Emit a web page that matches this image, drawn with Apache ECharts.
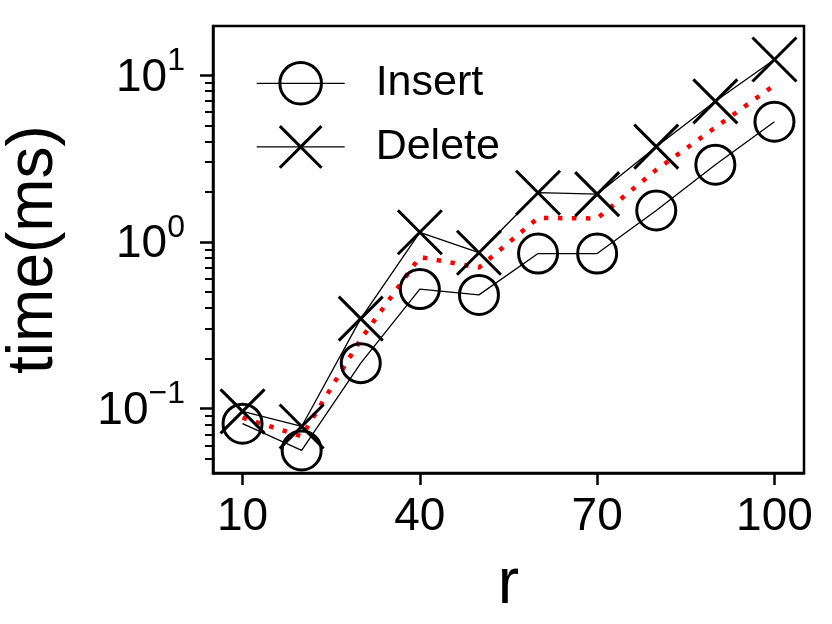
<!DOCTYPE html>
<html>
<head>
<meta charset="utf-8">
<script src="https://cdn.jsdelivr.net/npm/echarts@6/dist/echarts.min.js"></script>
<style>
  html, body { margin: 0; padding: 0; background: #fff; }
  #chart { width: 832px; height: 624px; }
</style>
</head>
<body>
<div id="chart"></div>
<script>
  // values
  var rValues = [10, 20, 30, 40, 50, 60, 70, 80, 90, 100];
  var insertMs = [0.081, 0.056, 0.187, 0.52, 0.48, 0.85, 0.85, 1.54, 2.9, 5.25];
  var deleteMs = [0.096, 0.078, 0.346, 1.14, 0.86, 1.97, 1.93, 3.72, 6.96, 12.4];
  var avgMs = [0.088, 0.068, 0.26, 0.81, 0.70, 1.39, 1.38, 2.7, 4.85, 8.7];
  var xTicks = [10, 40, 70, 100];
  var yMajor = [0.1, 1, 10];
  var yMinor = [0.05, 0.06, 0.07, 0.08, 0.09, 0.2, 0.3, 0.4, 0.5, 0.6, 0.7, 0.8, 0.9,
    2, 3, 4, 5, 6, 7, 8, 9];

  var FONT = 'Liberation Sans';
  var crossPath = 'path://M0,0L10,10M10,0L0,10';

  function pairs(ys) {
    var out = [];
    for (var i = 0; i < rValues.length; i++) {
      out.push([rValues[i], ys[i]]);
    }
    return out;
  }

  var chart = echarts.init(document.getElementById('chart'), null, { renderer: 'canvas' });

  var option = {
    animation: false,
    backgroundColor: '#fff',
    textStyle: { fontFamily: FONT, color: '#000' },
    grid: {
      left: 213, right: 28, top: 26, bottom: 151,
      show: true, borderColor: '#000', borderWidth: 2.5,
      backgroundColor: 'transparent',
      outerBoundsMode: 'none'
    },
    legend: {
      data: ['Insert', 'Delete'],
      orient: 'vertical',
      left: 251, top: 56,
      itemWidth: 88, itemHeight: 52, itemGap: 19,
      itemStyle: { borderWidth: 3, borderColor: '#000' },
      lineStyle: { width: 1.3, color: '#000' },
      textStyle: { fontSize: 43, fontFamily: FONT, color: '#000', padding: [0, 0, 0, 26] }
    },
    xAxis: {
      type: 'value',
      min: 5, max: 105,
      name: 'r',
      nameLocation: 'middle',
      nameGap: 80,
      nameTextStyle: { fontSize: 64, fontFamily: FONT, color: '#000' },
      axisLine: { lineStyle: { color: '#000', width: 2.5 } },
      axisTick: { customValues: xTicks, length: 12, lineStyle: { color: '#000', width: 2.5 } },
      axisLabel: { customValues: xTicks, margin: 21, fontSize: 46, fontFamily: FONT, color: '#000' },
      splitLine: { show: false }
    },
    yAxis: [{
      type: 'log',
      logBase: 10,
      min: 0.041, max: 19.7,
      name: 'time(ms)',
      nameLocation: 'middle',
      nameGap: 147,
      nameTextStyle: { fontSize: 64, fontFamily: FONT, color: '#000' },
      axisLine: { lineStyle: { color: '#000', width: 2.5 } },
      axisTick: { customValues: yMajor, length: 13, lineStyle: { color: '#000', width: 2.5 } },
      axisLabel: {
        customValues: yMajor,
        margin: 28,
        formatter: function (v) {
          var e = Math.round(Math.log10(v));
          var s = e < 0 ? '\u2212' + (-e) : '' + e;
          return '{b|10}{s|' + s + '}';
        },
        rich: {
          b: { fontSize: 46, fontFamily: FONT, color: '#000', padding: [6, 0, 0, 0] },
          s: { fontSize: 32, fontFamily: FONT, color: '#000', padding: [0, 0, 28, 0] }
        }
      },
      splitLine: { show: false }
    }, {
      type: 'log',
      logBase: 10,
      min: 0.041, max: 19.7,
      position: 'left',
      axisLine: { show: false },
      axisTick: { customValues: yMinor, length: 8, lineStyle: { color: '#000', width: 2 } },
      axisLabel: { show: false },
      splitLine: { show: false }
    }],
    series: [{
      name: 'Insert',
      type: 'line',
      data: pairs(insertMs),
      symbol: 'circle',
      symbolSize: 39,
      itemStyle: { color: 'rgba(0,0,0,0)', borderColor: '#000', borderWidth: 3 },
      lineStyle: { color: '#000', width: 1.3 }
    }, {
      name: 'Delete',
      type: 'line',
      data: pairs(deleteMs),
      symbol: crossPath,
      symbolSize: 44,
      itemStyle: { color: 'rgba(0,0,0,0)', borderColor: '#000', borderWidth: 3 },
      lineStyle: { color: '#000', width: 1.3 }
    }, {
      name: 'Average',
      type: 'line',
      data: pairs(avgMs),
      symbol: 'none',
      lineStyle: { color: '#ff0000', width: 4.5, type: [4.5, 9.5], cap: 'butt' }
    }]
  };

  chart.setOption(option);
</script>
</body>
</html>
